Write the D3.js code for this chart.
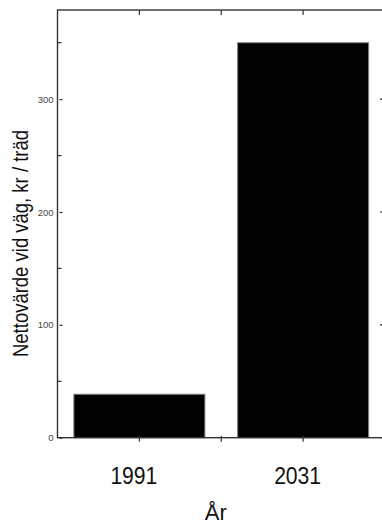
<!DOCTYPE html>
<html>
<head>
<meta charset="utf-8">
<script src="https://cdn.jsdelivr.net/npm/d3@7"></script>
<style>
  html, body { margin: 0; padding: 0; background: #fff; }
  svg { display: block; }
  text { font-family: Arial, "Liberation Sans", sans-serif; }
</style>
</head>
<body>
<script>
// ---- data ----
const categories = ["1991", "2031"];
const values = [38.5, 350];
const yTicks = [0, 100, 200, 300];
const yMinorTicks = [50, 150, 250, 350];
const xTitle = "År";
const yTitle = "Nettovärde vid väg, kr / träd";

// ---- layout ----
const W = 382, H = 525;
const mLeft = 57.5, mRight = 385, mTop = 10, mBottom = 437.7;

const svg = d3.select("body").append("svg").attr("width", W).attr("height", H);

// category positions: 1991 at 1, 2031 at 3, axis from 0 to 4
const catPos = categories.map((c, i) => 1 + 2 * i);
const x = d3.scaleLinear().domain([0, 4]).range([mLeft, mRight]);
const y = d3.scaleLinear().domain([0, 379]).range([mBottom, mTop]);
const barW = x(1.6) - x(0);

// bars
svg.append("g").selectAll("rect").data(values).join("rect")
  .attr("x", (d, i) => x(catPos[i]) - barW / 2)
  .attr("y", d => y(d))
  .attr("width", barW)
  .attr("height", d => y(0) - y(d))
  .attr("fill", "#000")
  .attr("stroke", "#808080")
  .attr("stroke-width", 1);

const axisColor = "#333";
const xTickVals = [1, 2, 3];

// left axis
const gl = svg.append("g").attr("transform", `translate(${mLeft},0)`);
gl.call(d3.axisLeft(y).tickValues(yTicks).tickSize(-5).tickPadding(4).tickFormat(d3.format("d")));
gl.select(".domain").remove();
gl.selectAll(".tick line").attr("x1", 2).attr("stroke", axisColor).attr("stroke-width", 1.2);
gl.selectAll(".tick text").attr("font-size", 9.5).attr("fill", "#444").attr("x", -4)
  .attr("font-family", "Arial, 'Liberation Sans', sans-serif");
gl.selectAll(".minor").data(yMinorTicks).join("line").attr("class", "minor")
  .attr("x1", 0).attr("x2", 4).attr("y1", d => y(d)).attr("y2", d => y(d))
  .attr("stroke", axisColor).attr("stroke-width", 1.2);

// right axis ticks
const gr = svg.append("g").attr("transform", `translate(${mRight},0)`);
gr.selectAll(".maj").data(yTicks).join("line").attr("class", "maj")
  .attr("x1", 0).attr("x2", -5).attr("y1", d => y(d)).attr("y2", d => y(d))
  .attr("stroke", axisColor).attr("stroke-width", 1.2);
gr.selectAll(".minor").data(yMinorTicks).join("line").attr("class", "minor")
  .attr("x1", 0).attr("x2", -3).attr("y1", d => y(d)).attr("y2", d => y(d))
  .attr("stroke", "#999").attr("stroke-width", 1);

// top axis ticks
svg.append("g").selectAll("line").data(xTickVals).join("line")
  .attr("x1", d => x(d)).attr("x2", d => x(d)).attr("y1", mTop).attr("y2", mTop + 5)
  .attr("stroke", axisColor).attr("stroke-width", 1.2);

// bottom axis ticks
svg.append("g").selectAll("line").data(xTickVals).join("line")
  .attr("x1", d => x(d)).attr("x2", d => x(d)).attr("y1", mBottom - 2).attr("y2", mBottom + 4)
  .attr("stroke", axisColor).attr("stroke-width", 1.2);

// frame
svg.append("rect")
  .attr("x", mLeft).attr("y", mTop).attr("width", mRight - mLeft).attr("height", mBottom - mTop)
  .attr("fill", "none").attr("stroke", axisColor).attr("stroke-width", 1.4);

// category labels
svg.append("g").selectAll("text").data(categories).join("text")
  .attr("x", (d, i) => x(catPos[i]) - 5.5)
  .attr("y", 484)
  .attr("text-anchor", "middle")
  .attr("font-size", 23.5)
  .attr("textLength", 47)
  .attr("lengthAdjust", "spacingAndGlyphs")
  .attr("fill", "#111")
  .text(d => d);

// x title
svg.append("text")
  .attr("x", x(2) - 5.5)
  .attr("y", 520)
  .attr("text-anchor", "middle")
  .attr("font-size", 22)
  .attr("fill", "#111")
  .text(xTitle);

// y title
svg.append("text")
  .attr("transform", "translate(27.5,243.5) rotate(-90)")
  .attr("text-anchor", "middle")
  .attr("font-size", 21.5)
  .attr("textLength", 227)
  .attr("lengthAdjust", "spacingAndGlyphs")
  .attr("fill", "#111")
  .text(yTitle);
</script>
</body>
</html>
